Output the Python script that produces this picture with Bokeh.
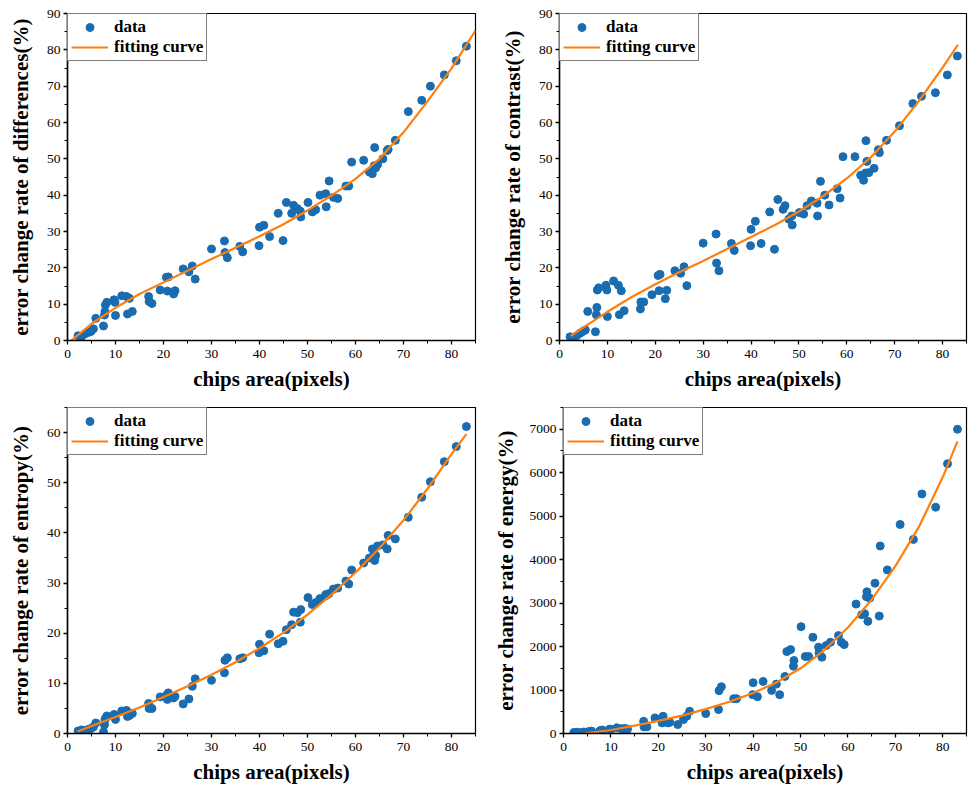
from bokeh.plotting import figure
from bokeh.models import Range1d, SingleIntervalTicker, Legend, LegendItem
from bokeh.layouts import column, row
from bokeh.embed import file_html
from bokeh.resources import INLINE

# ---- data ----
chips_area = [2.2, 2.9, 3.6, 4.3, 4.9, 5.4, 5.9, 7.5, 7.7, 7.8, 7.9, 8.2, 9.7, 9.9, 10.0,
              11.3, 12.3, 12.9, 12.5, 13.5, 16.9, 17.0, 17.6, 19.3, 20.6, 21.0, 20.8, 22.1, 22.4,
              24.1, 25.3, 26.0, 26.6, 30.0, 32.7, 32.8, 33.3, 35.9, 36.5, 39.9, 40.0, 40.9, 42.1,
              43.9, 44.9, 45.6, 46.7, 47.1, 47.9, 48.5, 48.6, 50.1, 51.0, 51.7, 52.6, 53.8, 53.9,
              54.5, 55.4, 56.3, 58.0, 58.6, 59.2, 61.7, 62.9, 63.5, 63.9, 64.0, 64.2, 64.6, 65.7,
              66.6, 66.8, 68.3, 71.0, 73.8, 75.6, 78.5, 81.0, 83.1]

err_differences = [1.3, 1.0, 1.8, 2.2, 2.5, 3.2, 6.1, 4.0, 7.0, 8.0, 9.8, 10.5, 11.2, 10.5, 6.9,
                   12.3, 12.1, 11.6, 7.3, 8.0, 12.1, 10.7, 10.2, 13.9, 17.4, 17.5, 13.6, 12.8, 13.7,
                   19.7, 18.9, 20.5, 16.9, 25.2, 27.4, 24.2, 22.8, 25.9, 24.4, 26.1, 31.2, 31.7, 28.6,
                   35.0, 27.5, 38.0, 35.0, 37.2, 36.3, 35.6, 34.0, 38.0, 35.4, 36.0, 40.0, 40.4, 36.8,
                   43.9, 39.4, 39.1, 42.5, 42.5, 49.1, 49.6, 46.4, 45.9, 48.1, 53.1, 47.5, 48.4, 50.0,
                   52.3, 52.6, 55.1, 63.0, 66.1, 70.0, 73.1, 77.0, 81.0]

err_contrast = [1.0, 0.7, 1.3, 2.0, 2.5, 2.9, 8.0, 2.4, 7.1, 9.1, 13.9, 14.5, 15.2, 13.9, 6.6,
                16.4, 15.2, 13.7, 7.1, 8.2, 8.7, 10.6, 10.6, 12.6, 17.9, 18.2, 13.7, 11.5, 13.8,
                19.2, 18.5, 20.3, 15.1, 26.8, 29.3, 21.3, 19.2, 26.7, 24.8, 26.1, 30.6, 32.8, 26.7,
                35.4, 25.1, 38.8, 36.1, 37.1, 33.4, 34.3, 31.8, 35.2, 34.8, 37.1, 38.4, 37.8, 34.3,
                43.8, 40.0, 37.3, 41.8, 39.2, 50.6, 50.6, 45.5, 44.1, 46.1, 55.0, 49.3, 46.2, 47.4,
                52.5, 51.7, 55.1, 59.1, 65.2, 67.2, 68.2, 73.1, 78.3]

err_entropy = [0.5, 0.7, 0.6, 0.8, 1.0, 1.3, 2.1, 0.3, 1.7, 2.7, 3.0, 3.5, 3.8, 3.5, 2.8,
               4.5, 4.6, 3.6, 3.4, 4.0, 6.0, 5.0, 5.0, 7.3, 7.6, 8.1, 6.8, 7.1, 7.4,
               5.9, 6.9, 9.4, 10.9, 10.6, 12.1, 14.6, 15.1, 14.9, 15.1, 16.1, 17.8, 16.5, 19.8,
               17.9, 18.4, 20.7, 21.7, 24.2, 24.1, 22.2, 24.7, 27.1, 25.7, 26.1, 26.9, 27.7, 27.5,
               27.9, 28.8, 29.0, 30.4, 29.8, 32.6, 34.0, 35.0, 36.8, 35.9, 34.5, 35.5, 37.4, 37.6,
               36.8, 39.5, 38.8, 43.1, 47.1, 50.2, 54.2, 57.2, 61.2]

err_energy = [25, 30, 20, 35, 30, 45, 55, 40, 55, 65, 70, 80, 95, 99, 90,
              130, 110, 115, 80, 100, 280, 150, 153, 359, 330, 397, 244, 244, 260,
              206, 321, 397, 511, 458, 550, 985, 1076, 801, 801, 893, 1168, 847, 1198,
              992, 1137, 893, 1313, 1885, 1931, 1550, 1679, 2458, 1771, 1771, 2214, 1985, 1855,
              1756, 2023, 2099, 2252, 2099, 2046, 2977, 2733, 2756, 3145, 3260, 2580, 3115, 3458,
              2702, 4313, 3763, 4809, 4466, 5511, 5206, 6206, 7000]

# fitting curves
fit_x_differences = [0.8, 5, 10, 15, 20, 25, 30, 35, 40, 45, 50, 55, 60, 65, 70, 75, 80, 85]
fit_y_differences = [0.0, 4.6, 9.0, 12.8, 16.0, 19.2, 22.4, 25.5, 28.7, 32.0, 35.8, 39.9, 44.5,
                     50.0, 57.3, 65.8, 74.9, 85.3]

fit_x_contrast = [2.3, 5, 10, 15, 20, 25, 30, 35, 40, 45, 50, 55, 60, 65, 70, 75, 80, 83.2]
fit_y_contrast = [1.2, 3.6, 7.9, 11.9, 15.5, 18.8, 21.9, 25.2, 28.5, 31.8, 35.5, 39.7, 44.6,
                  50.4, 57.5, 65.8, 75.1, 81.4]

fit_x_entropy = [2.1, 5, 10, 15, 20, 25, 30, 35, 40, 45, 50, 55, 60, 65, 70, 75, 80, 83.1]
fit_y_entropy = [0.4, 1.5, 3.3, 5.2, 7.3, 9.4, 11.7, 14.2, 17.0, 20.1, 23.7, 27.7, 32.1,
                 37.0, 42.5, 48.8, 55.7, 59.7]

fit_x_energy = [4.4, 10, 15, 20, 25, 30, 35, 40, 45, 50, 55, 60, 65, 70, 75, 80, 83.1]
fit_y_energy = [0, 80, 180, 290, 410, 560, 730, 930, 1180, 1500, 1920, 2440, 3080, 3850,
                4760, 5900, 6720]

x_label = "chips area(pixels)"
legend_labels = ["data", "fitting curve"]

BLUE = "#1a6cb0"
ORANGE = "#ff7f0e"
SERIF = "Liberation Serif"


def panel(y, fx, fy, ymax, yint, ylabel, width, height, bl, br, bt, bb, ylab_standoff=11):
    p = figure(width=width, height=height, x_range=Range1d(0, 85), y_range=Range1d(0, ymax),
               output_backend="svg", toolbar_location=None,
               min_border_left=bl, min_border_right=br, min_border_top=bt, min_border_bottom=bb)
    p.xgrid.visible = False
    p.ygrid.visible = False
    p.outline_line_color = "black"
    p.outline_line_width = 1.2
    p.outline_line_alpha = 1.0
    p.background_fill_color = "white"
    p.border_fill_color = "white"

    p.xaxis.ticker = SingleIntervalTicker(interval=10, num_minor_ticks=2)
    p.yaxis.ticker = SingleIntervalTicker(interval=yint, num_minor_ticks=2)
    for ax in (p.xaxis[0], p.yaxis[0]):
        ax.axis_line_color = "black"
        ax.axis_line_width = 1.5
        ax.major_tick_line_color = "black"
        ax.major_tick_line_width = 1.3
        ax.minor_tick_line_color = "black"
        ax.minor_tick_line_width = 1.0
        ax.major_tick_in = 0
        ax.major_tick_out = 4
        ax.minor_tick_in = 0
        ax.minor_tick_out = 3
        ax.major_label_text_font = SERIF
        ax.major_label_text_font_size = "13.5px"
        ax.major_label_text_color = "black"
        ax.axis_label_text_font = SERIF
        ax.axis_label_text_font_style = "bold"
        ax.axis_label_text_font_size = "21px"
        ax.axis_label_text_color = "black"
    p.xaxis.major_label_standoff = 5
    p.yaxis.major_label_standoff = 3
    p.xaxis.axis_label = x_label
    p.xaxis.axis_label_standoff = 6
    p.yaxis.axis_label = ylabel
    p.yaxis.axis_label_standoff = ylab_standoff

    r_pts = p.scatter(chips_area, y, size=8, fill_color=BLUE, line_color=BLUE)
    r_fit = p.line(fx, fy, line_color=ORANGE, line_width=2.2)

    legend = Legend(items=[LegendItem(label=legend_labels[0], renderers=[r_pts]),
                           LegendItem(label=legend_labels[1], renderers=[r_fit])],
                    location="top_left", margin=0, padding=3, spacing=0,
                    glyph_width=37, glyph_height=20, label_height=20, label_standoff=6,
                    label_text_font=SERIF, label_text_font_style="bold",
                    label_text_font_size="17px", label_text_color="black",
                    border_line_color="black", border_line_width=1.2,
                    background_fill_color="white", background_fill_alpha=1.0)
    p.add_layout(legend)
    return p


p1 = panel(err_differences, fit_x_differences, fit_y_differences, 90, 10,
           "error change rate of differences(%)", 490, 393, 67, 15, 13, 52)
p2 = panel(err_contrast, fit_x_contrast, fit_y_contrast, 90, 10,
           "error change rate of contrast(%)", 478, 393, 69, 2, 13, 52)
p3 = panel(err_entropy, fit_x_entropy, fit_y_entropy, 65, 10,
           "error change rate of entropy(%)", 490, 393, 67, 15, 14, 52)
p4 = panel(err_energy, fit_x_energy, fit_y_energy, 7500, 1000,
           "error change rate of energy(%)", 478, 393, 71, 2, 14, 52, ylab_standoff=9)

layout = column(row(p1, p2), row(p3, p4))

with open("out.html", "w") as f:
    f.write(file_html(layout, INLINE))
